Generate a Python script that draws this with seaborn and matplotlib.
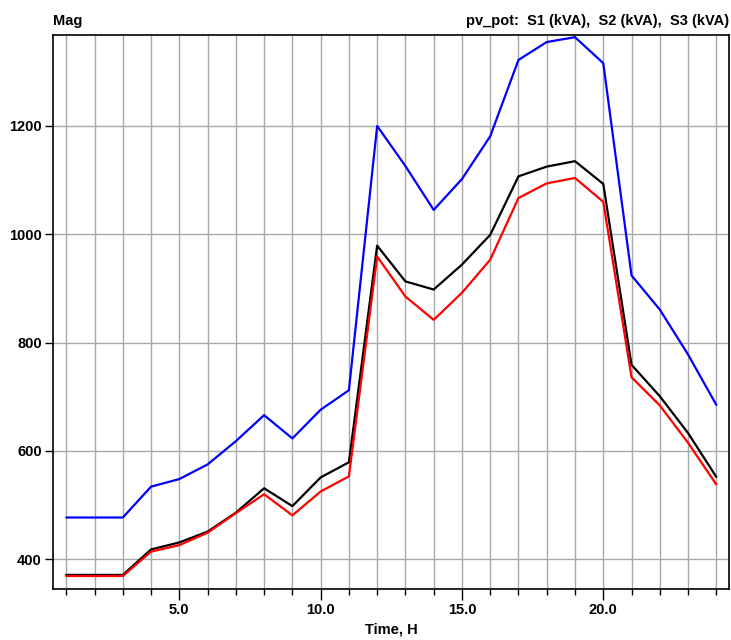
import matplotlib
matplotlib.use("Agg")
import matplotlib.pyplot as plt
from matplotlib.ticker import MultipleLocator, FixedLocator, FuncFormatter
from matplotlib import font_manager
import numpy as np
import pandas as pd
import seaborn as sns

# Hourly apparent power per series (kVA)
hours = list(range(1, 25))
s1 = [477, 477, 477, 534, 548, 575, 618, 666, 623, 676, 712, 1200,
      1126, 1045, 1102, 1181, 1322, 1355, 1364, 1316, 924, 861, 778, 685]
s2 = [371, 371, 371, 418, 431, 451, 486, 531, 498, 551, 579, 979,
      913, 898, 944, 999, 1107, 1125, 1135, 1093, 759, 701, 633, 552]
s3 = [369, 369, 369, 414, 426, 449, 485, 520, 481, 525, 553, 959,
      885, 842, 892, 953, 1067, 1094, 1104, 1060, 736, 684, 615, 538]
series_names = ["S1 (kVA)", "S2 (kVA)", "S3 (kVA)"]
series_colors = ["#0000ff", "#000000", "#ff0000"]
y_ticks = [400, 600, 800, 1000, 1200]
x_major = [5, 10, 15, 20]

df = pd.DataFrame({
    "Time": hours * 3,
    "Mag": s1 + s2 + s3,
    "Series": [n for n in series_names for _ in hours],
})

sns.set_style("white")
installed = {f.name for f in font_manager.fontManager.ttflist}
narrow = "Liberation Sans Narrow" in installed
plt.rcParams["font.family"] = (["Liberation Sans Narrow"] if narrow else []) + ["Liberation Sans", "DejaVu Sans"]
plt.rcParams["font.weight"] = "bold"
plt.rcParams["text.color"] = "black"
fs_tick = 12.5 if narrow else 10.5
fs_text = 12.5 if narrow else 10.5

fig = plt.figure(figsize=(7.31, 6.40), dpi=100)
ax = fig.add_axes([0.0725, 0.0797, 0.9248, 0.8656])

sns.lineplot(data=df, x="Time", y="Mag", hue="Series",
             palette=dict(zip(series_names, series_colors)),
             linewidth=1.6, legend=False, ax=ax, zorder=3)

ax.set_xlim(0.53, 24.45)
ax.set_ylim(345, 1368)

ax.xaxis.set_major_locator(FixedLocator(x_major))
ax.xaxis.set_minor_locator(MultipleLocator(1))
ax.xaxis.set_major_formatter(FuncFormatter(lambda v, p: f"{v:.1f}"))
ax.yaxis.set_major_locator(FixedLocator(y_ticks))

ax.grid(True, which="both", axis="x", color="#a8a8a8", linewidth=1.0, zorder=0)
ax.grid(True, which="major", axis="y", color="#a8a8a8", linewidth=1.0, zorder=0)

ax.tick_params(axis="x", which="major", direction="out", length=8, width=1,
               color="black", labelcolor="black", labelsize=fs_tick, pad=2, bottom=True)
ax.tick_params(axis="x", which="minor", direction="out", length=4, width=1,
               color="black", bottom=True)
ax.tick_params(axis="y", which="major", direction="out", length=6, width=1,
               color="black", labelcolor="black", labelsize=fs_tick, pad=2, left=True)
for lab in ax.get_xticklabels() + ax.get_yticklabels():
    lab.set_fontweight("bold")

for sp in ax.spines.values():
    sp.set_color("black")
    sp.set_linewidth(1.2)

ax.set_xlabel("Time, H", fontsize=fs_text, fontweight="bold", color="black", labelpad=4)
ax.set_ylabel("")
ax.text(0.0, 1.012, "Mag", transform=ax.transAxes, ha="left", va="bottom",
        fontsize=fs_text, fontweight="bold", color="black")
ax.text(1.0, 1.012, "pv_pot:  " + ",  ".join(series_names),
        transform=ax.transAxes, ha="right", va="bottom",
        fontsize=fs_text, fontweight="bold", color="black")

fig.savefig("out.png", dpi=100)
